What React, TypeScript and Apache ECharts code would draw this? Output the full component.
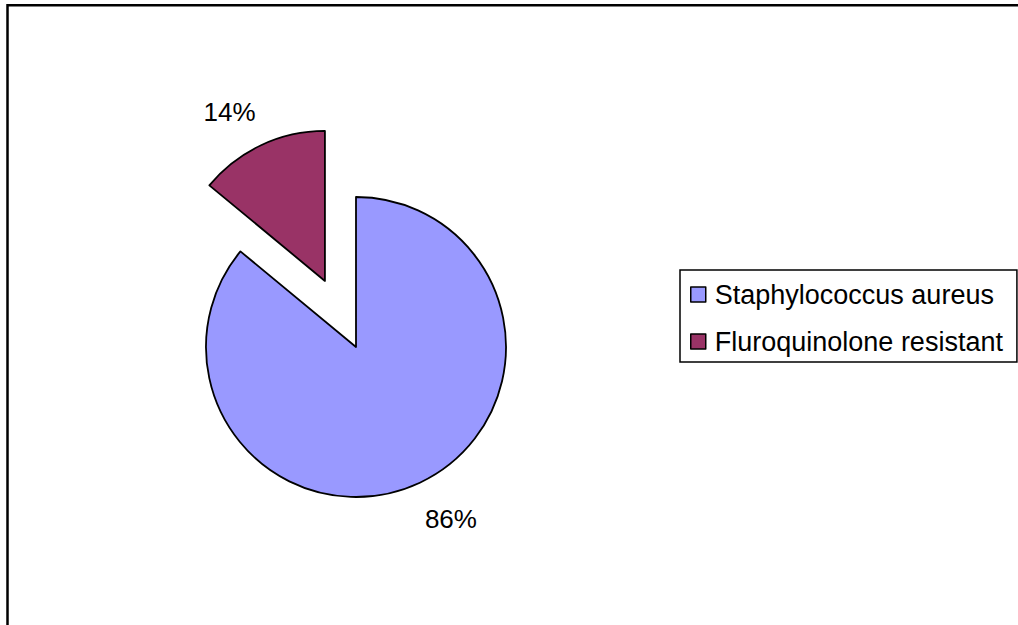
import React, { useEffect, useRef } from "react";
import * as echarts from "echarts";

const categories = ["Staphylococcus aureus", "Fluroquinolone resistant"];
const values = [86, 14];
const colors = ["#9999FF", "#993366"];
const explodedIndex = 1;

export default function App() {
  const ref = useRef<HTMLDivElement>(null);
  useEffect(() => {
    if (!ref.current) return;
    const chart = echarts.init(ref.current, null, { renderer: "svg" });
    const labelCfg = [
      { length: 40, distance: -12 },
      { length: 36.5, distance: -10 },
    ];
    chart.setOption({
      animation: false,
      backgroundColor: "#ffffff",
      graphic: [
        {
          type: "rect",
          shape: { x: 7.5, y: 5.3, width: 1200, height: 800 },
          style: { fill: "none", stroke: "#000", lineWidth: 2.5 },
          silent: true,
        },
      ],
      legend: {
        orient: "vertical",
        left: 680,
        top: 270,
        padding: [11, 14, 7, 10],
        itemGap: 20,
        itemWidth: 15,
        itemHeight: 15,
        icon: "rect",
        borderColor: "#000",
        borderWidth: 1.5,
        backgroundColor: "#fff",
        itemStyle: { borderColor: "#000", borderWidth: 1.5 },
        textStyle: {
          fontFamily: "Liberation Sans, Arial, sans-serif",
          fontSize: 27,
          color: "#000",
          padding: [0, 0, 0, 4],
        },
        data: categories,
      },
      series: [
        {
          type: "pie",
          center: [356, 347],
          radius: 150,
          startAngle: 90,
          clockwise: true,
          selectedMode: "single",
          selectedOffset: 73,
          avoidLabelOverlap: false,
          emphasis: { disabled: true },
          itemStyle: { borderColor: "#000", borderWidth: 1.8 },
          label: {
            show: true,
            position: "outside",
            formatter: "{d}%",
            fontFamily: "Liberation Sans, Arial, sans-serif",
            fontSize: 26,
            color: "#000",
          },
          labelLine: { show: false },
          data: categories.map((name, i) => ({
            name,
            value: values[i],
            selected: i === explodedIndex,
            itemStyle: { color: colors[i] },
            label: { distanceToLabelLine: labelCfg[i].distance },
            labelLine: { show: false, length: labelCfg[i].length, length2: 0 },
          })),
        },
      ],
    });
    return () => chart.dispose();
  }, []);
  return (
    <div
      ref={ref}
      style={{ position: "fixed", left: 0, top: 0, width: 1018, height: 625 }}
    />
  );
}
